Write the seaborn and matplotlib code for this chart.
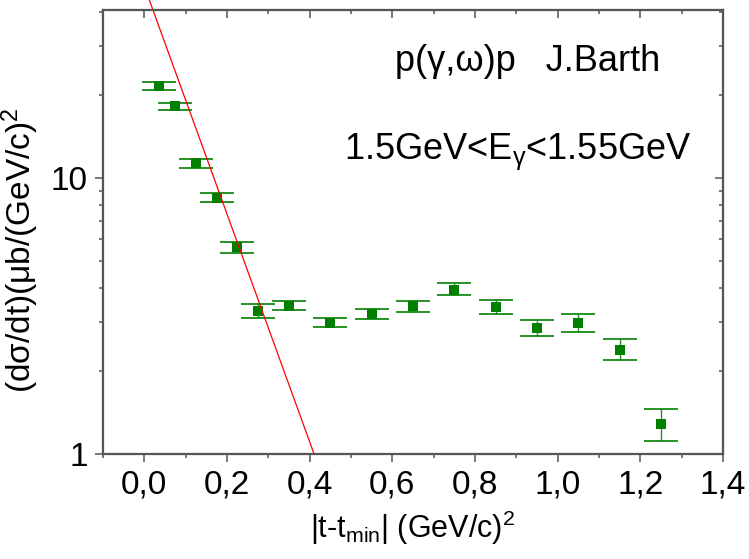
import numpy as np
import pandas as pd
import matplotlib
matplotlib.use("Agg")
import matplotlib.pyplot as plt
from matplotlib import font_manager
from matplotlib.ticker import FixedLocator, LogLocator, NullFormatter, FixedFormatter
import seaborn as sns

# ---------------- data ----------------
t_vals = [0.035, 0.075, 0.125, 0.175, 0.225, 0.275, 0.35, 0.45, 0.55, 0.65,
          0.75, 0.85, 0.95, 1.05, 1.15, 1.25]
dsdt = [21.5, 18.2, 11.3, 8.49, 5.61, 3.30, 3.45, 2.99, 3.22, 3.45,
        3.93, 3.42, 2.87, 2.99, 2.39, 1.28]
err_hi = [22.3, 18.7, 11.7, 8.80, 5.88, 3.49, 3.58, 3.12, 3.36, 3.59,
          4.16, 3.61, 3.07, 3.22, 2.60, 1.45]
err_lo = [20.8, 17.7, 10.9, 8.19, 5.36, 3.10, 3.32, 2.88, 3.08, 3.27,
          3.76, 3.22, 2.68, 2.76, 2.19, 1.11]

fit_A = 49.5
fit_b = 9.5
fit_range = [0.012, 0.411]

x_ticks = [0.0, 0.2, 0.4, 0.6, 0.8, 1.0, 1.2, 1.4]
x_ticklabels = ["0,0", "0,2", "0,4", "0,6", "0,8", "1,0", "1,2", "1,4"]
y_ticks = [1, 10]
y_ticklabels = ["1", "10"]

title1 = "p(\u03b3,\u03c9)p   J.Barth"
title2 = "1.5GeV<E$_{\\gamma}$<1.55GeV"
xlabel = "|t-t$_{\\mathrm{min}}$| (GeV/c)$^{2}$"
ylabel = "(d\u03c3/dt)(\u03bcb/(GeV/c)$^{2}$"

df = pd.DataFrame({"t": t_vals, "y": dsdt})
fx = np.linspace(fit_range[0], fit_range[1], 100)
fit_df = pd.DataFrame({"t": fx, "y": fit_A * np.exp(-fit_b * fx)})

# ---------------- style ----------------
sns.set_style("ticks")
avail = {f.name for f in font_manager.fontManager.ttflist}
main_font = "Liberation Sans" if "Liberation Sans" in avail else "DejaVu Sans"
narrow_font = "Liberation Sans Narrow" if "Liberation Sans Narrow" in avail else main_font
plt.rcParams["font.family"] = [main_font, "DejaVu Sans"]
plt.rcParams["mathtext.fontset"] = "custom"
plt.rcParams["mathtext.rm"] = main_font
plt.rcParams["mathtext.it"] = main_font + ":italic"
plt.rcParams["mathtext.default"] = "regular"
plt.rcParams["text.color"] = "black"
plt.rcParams["axes.labelcolor"] = "black"

spine_col = "#555555"
green = "#008000"

fig = plt.figure(figsize=(7.49, 5.59), dpi=100)
ax = fig.add_axes([103 / 749, 1 - 454 / 559, 620 / 749, 444 / 559])

ax.set_yscale("log")
ax.set_xlim(-0.1, 1.4)
ax.set_ylim(1, 40.6)

# error bars
yerr = np.array([np.array(dsdt) - np.array(err_lo), np.array(err_hi) - np.array(dsdt)])
ax.errorbar(t_vals, dsdt, yerr=yerr, fmt="none", ecolor=green, elinewidth=1.0,
            capsize=12, capthick=1.4, alpha=0.85, zorder=2)
# markers
sns.scatterplot(data=df, x="t", y="y", ax=ax, marker="s", s=62, color=green,
                edgecolor=green, linewidth=0, zorder=3)
# fit line
sns.lineplot(data=fit_df, x="t", y="y", ax=ax, color="red", linewidth=0.9,
             clip_on=False, zorder=4)

ax.set_xticks(x_ticks)
ax.set_xticklabels(x_ticklabels)
ax.xaxis.set_minor_locator(FixedLocator(np.arange(-0.1, 1.41, 0.1)))
ax.yaxis.set_major_locator(FixedLocator(y_ticks))
ax.yaxis.set_major_formatter(FixedFormatter(y_ticklabels))
ax.yaxis.set_minor_locator(LogLocator(base=10, subs=np.arange(2, 10)))
ax.yaxis.set_minor_formatter(NullFormatter())

ax.tick_params(axis="both", which="major", direction="out", length=6, width=1.1,
               color=spine_col, labelsize=24, pad=5, labelcolor="black")
ax.tick_params(axis="both", which="minor", direction="out", length=3, width=1.1,
               color=spine_col)
ax.tick_params(top=False, right=False)
for lab in ax.get_xticklabels() + ax.get_yticklabels():
    lab.set_fontfamily([narrow_font, "DejaVu Sans"])

for sp in ax.spines.values():
    sp.set_color(spine_col)
    sp.set_linewidth(1.5)
    sp.set_visible(True)

# top ticks (inward)
axt = ax.twiny()
axt.set_xlim(ax.get_xlim())
axt.set_xticks(x_ticks)
axt.xaxis.set_minor_locator(FixedLocator(np.arange(-0.1, 1.41, 0.1)))
axt.tick_params(axis="x", which="major", direction="in", length=6, width=1.1,
                color=spine_col, labeltop=False)
axt.tick_params(axis="x", which="minor", direction="in", length=3, width=1.1,
                color=spine_col)
# right ticks (inward)
axr = ax.twinx()
axr.set_yscale("log")
axr.set_ylim(ax.get_ylim())
axr.yaxis.set_major_locator(FixedLocator(y_ticks))
axr.yaxis.set_minor_locator(LogLocator(base=10, subs=np.arange(2, 10)))
axr.yaxis.set_minor_formatter(NullFormatter())
axr.tick_params(axis="y", which="major", direction="in", length=6, width=1.1,
                color=spine_col, labelright=False)
axr.tick_params(axis="y", which="minor", direction="in", length=3, width=1.1,
                color=spine_col)
for a in (axt, axr):
    for sp in a.spines.values():
        sp.set_color(spine_col)
        sp.set_linewidth(1.5)

ax.set_xlabel(xlabel, fontsize=22, labelpad=6, color="black")
ax.set_ylabel(ylabel, fontsize=24, color="black")
ax.yaxis.set_label_coords(-0.10, 0.46)

ax.text(0.685, 0.862, title1, transform=ax.transAxes, fontsize=26, ha="center",
        va="baseline", color="black")
ax.text(0.669, 0.665, title2, transform=ax.transAxes, fontsize=26, ha="center",
        va="baseline", color="black")

fig.savefig("out.png", dpi=100)
